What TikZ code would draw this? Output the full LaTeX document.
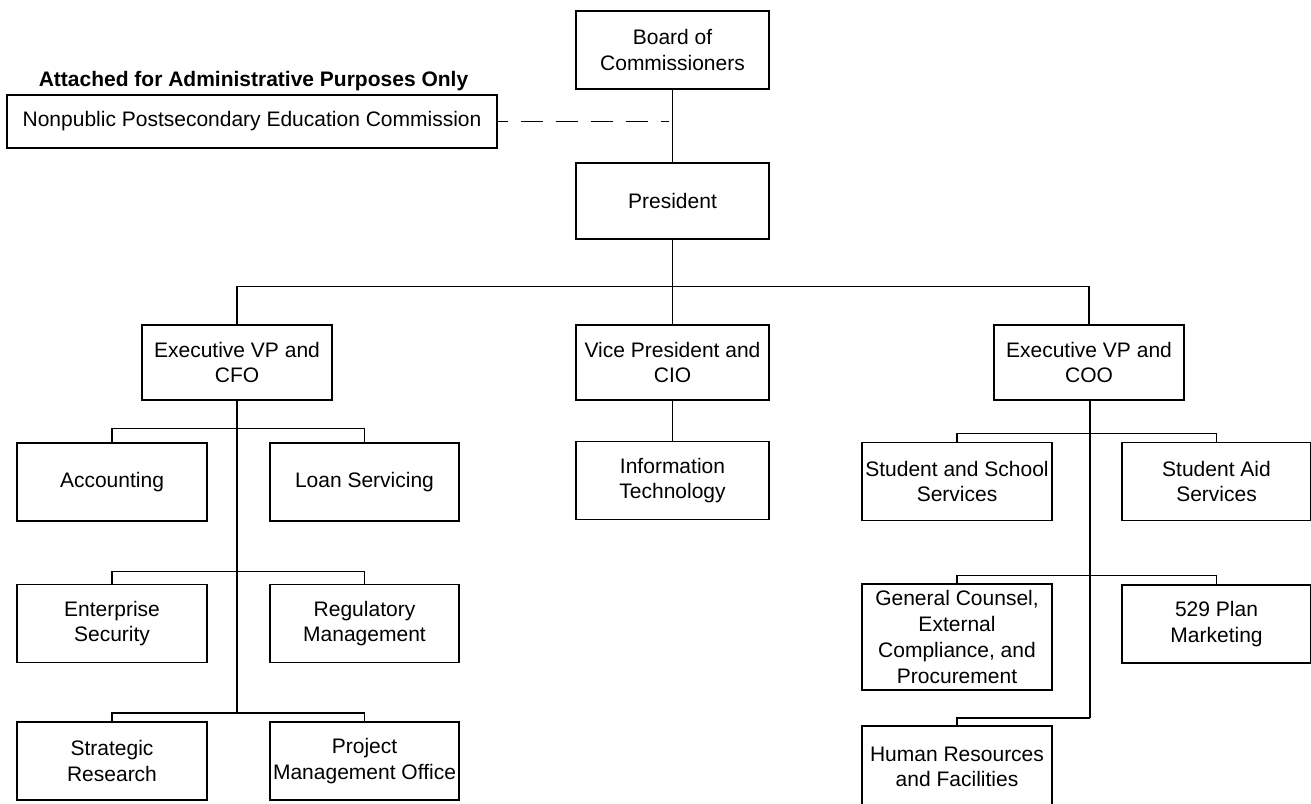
\documentclass[tikz,border=0pt]{standalone}
\usepackage{fontspec}
\setmainfont{Liberation Sans}
\usepackage{tikz}
\usetikzlibrary{positioning}

\tikzset{
  unit/.style={draw, line width=0.7pt, align=center, inner sep=1pt,
    minimum width=95pt, minimum height=39pt},
  link/.style={line width=0.65pt},
}

\begin{document}
\begin{tikzpicture}[x=0.5pt, y=-0.5pt, font=\fontsize{10.5}{12.85}\selectfont]
    \useasboundingbox (0,0) rectangle (1311,803);
    \clip (0,0) rectangle (1311,803);

    % Top of the chart
    \node[unit, minimum width=96.5pt] (board) at (672.5,50) {Board of\\Commissioners};
    \node[unit, minimum width=96.5pt, minimum height=38pt] (pres) at (672.5,201) {President};
    \node[font=\fontsize{10.5}{12.85}\selectfont\bfseries, anchor=base] (attach) at (253.5,86)
        {Attached for Administrative Purposes Only};
    \node[unit, minimum width=245pt, minimum height=26.5pt] (nonpub) at (252,121.5)
        {Nonpublic Postsecondary Education Commission};

    % Second level
    \node[unit, minimum height=37.5pt] (cfo) at (237,362.5) {Executive VP and\\CFO};
    \node[unit, minimum width=96.5pt, minimum height=37.5pt] (cio) at (672.5,362.5) {Vice President and\\CIO};
    \node[unit, minimum height=37.5pt] (coo) at (1089,362.5) {Executive VP and\\COO};

    % Under the CFO
    \node[unit] (acct) at (112,482) {Accounting};
    \node[unit, minimum width=94.5pt] (loan) at (364.5,482) {Loan Servicing};
    \node[unit] (ent) at (112,623.5) {Enterprise\\Security};
    \node[unit, minimum width=94.5pt] (reg) at (364.5,623.5) {Regulatory\\Management};
    \node[unit] (strat) at (112,761) {Strategic\\Research};
    \node[unit, minimum width=94.5pt] (pmo) at (364.5,761) {Project\\Management Office};

    % Under the CIO
    \node[unit, minimum width=96.5pt] (it) at (672.5,480.5) {Information\\Technology};

    % Under the COO
    \node[unit] (sss) at (957,481.5) {Student and School\\Services};
    \node[unit, minimum width=94.5pt] (sas) at (1216.5,481.5) {Student Aid\\Services};
    \node[unit, minimum height=53pt] (gc) at (957,637)
        {General Counsel,\\External\\Compliance, and\\Procurement};
    \node[unit, minimum width=94.5pt] (mkt) at (1216.5,624) {529 Plan\\Marketing};
    \node[unit, minimum height=41pt] (hr) at (957,767) {Human Resources\\and Facilities};

    % Lines
    \coordinate (cfoend) at (237,713);
    \coordinate (cooend) at (1090,718);
    \draw[link] (board.south) -- (pres.north);
    \draw[link, dash pattern=on 11pt off 6.5pt, dash phase=6pt]
        (nonpub.east) -- ([xshift=-2pt]nonpub.east -| board.south);
    \draw[link] (pres.south) -- (cio.north);
    \draw[link] (cfo.north) -- ++(0,-38) -| (coo.north);
    \draw[link] (cio.south) -- (it.north);

    \draw[link] (cfo.south) -- (cfoend);
    \draw[link] (acct.north) -- ++(0,-14) -| (loan.north);
    \draw[link] (ent.north) -- ++(0,-12) -| (reg.north);
    \draw[link] (strat.north) -- (strat.north |- cfoend) -| (pmo.north);

    \draw[link] (coo.south -| cooend) -- (cooend);
    \draw[link] (sss.north) -- ++(0,-8) -| (sas.north);
    \draw[link] (gc.north) -- ++(0,-8) -| (mkt.north);
    \draw[link] (hr.north) -- (hr.north |- cooend) -- (cooend);
\end{tikzpicture}
\end{document}
